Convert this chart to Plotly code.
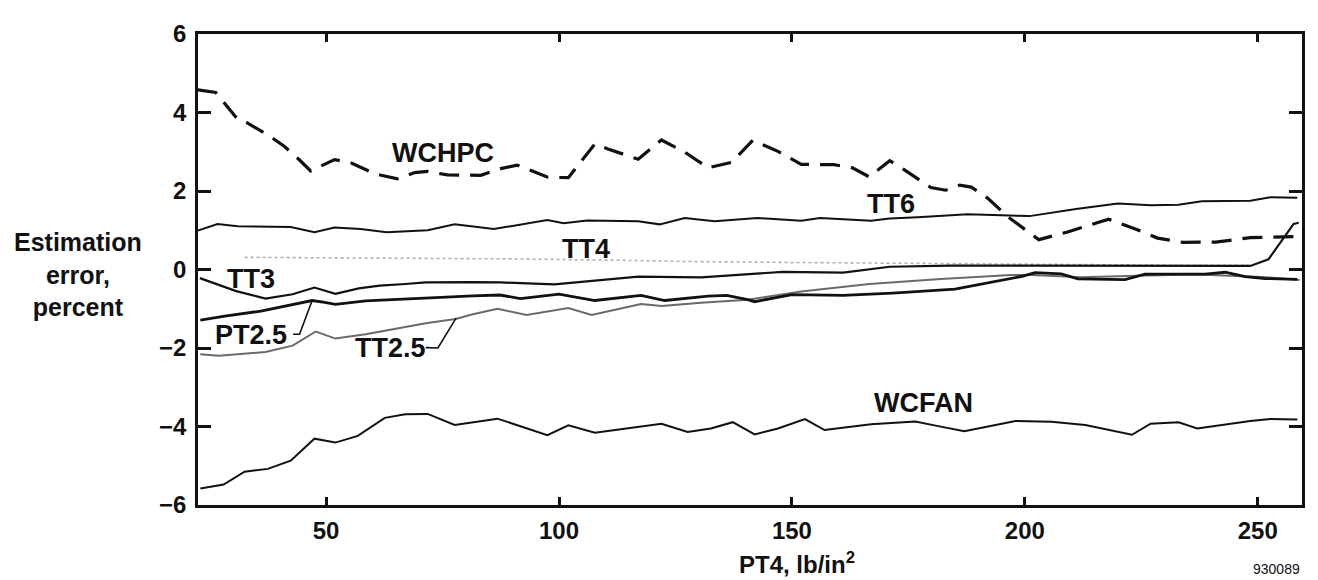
import plotly.graph_objects as go

# ---------------- data ----------------
wchpc_x = [22.4, 26.3, 31, 33, 38, 41, 44.3, 46.7, 51.8, 55.3, 60.4, 65.3, 69, 71.8, 76, 83.2, 87.5, 91,
           97.6, 102, 107.7, 110.5, 117, 122, 127, 132, 137, 141.6, 147, 152, 159, 163, 166.6, 171, 174,
           179.8, 183, 186, 188.5, 192, 196.4, 203, 209, 218, 224, 228.5, 234, 241, 248.4, 258.5]
wchpc_y = [4.58, 4.51, 3.83, 3.74, 3.39, 3.14, 2.79, 2.51, 2.8, 2.72, 2.44, 2.31, 2.47, 2.5, 2.41, 2.4, 2.57,
           2.66, 2.35, 2.34, 3.2, 3.07, 2.81, 3.3, 2.99, 2.59, 2.73, 3.29, 3.01, 2.68, 2.67, 2.59, 2.36, 2.77,
           2.55, 2.09, 2.02, 2.15, 2.1, 1.82, 1.34, 0.76, 0.95, 1.28, 1.02, 0.8, 0.69, 0.7, 0.81, 0.84]

tt6_x = [22.4, 26.7, 31, 42.4, 47.5, 51.8, 57.4, 63, 71.8, 77.6, 86, 91.7, 97.5, 101, 106, 117, 121.6, 127,
         133.4, 142.6, 152, 156, 167, 171, 177, 187.7, 201, 211, 220, 227, 233, 238, 248.4, 252.7, 258.5]
tt6_y = [0.99, 1.16, 1.1, 1.08, 0.95, 1.07, 1.03, 0.95, 1.0, 1.15, 1.03, 1.15, 1.26, 1.18, 1.25, 1.23, 1.15,
         1.31, 1.23, 1.31, 1.24, 1.31, 1.24, 1.3, 1.33, 1.41, 1.36, 1.54, 1.68, 1.64, 1.65, 1.74, 1.75, 1.84, 1.83]

tt4_x = [32.5, 50, 70, 90, 110, 130, 150, 170, 190, 210, 230, 248]
tt4_y = [0.31, 0.3, 0.29, 0.27, 0.24, 0.2, 0.18, 0.16, 0.14, 0.12, 0.11, 0.11]

tt3_x = [22.9, 30.7, 37, 42.8, 47.5, 52, 57, 61.5, 67, 71.4, 81.5, 87.5, 99, 109, 117, 130.5, 140.5, 148,
         161, 171, 184, 200, 220, 240, 248.4, 252.3, 256, 257.7, 258.8]
tt3_y = [-0.22, -0.55, -0.74, -0.63, -0.46, -0.62, -0.48, -0.41, -0.37, -0.33, -0.32, -0.33, -0.38, -0.27,
         -0.18, -0.2, -0.12, -0.06, -0.08, 0.07, 0.1, 0.1, 0.1, 0.1, 0.09, 0.26, 0.87, 1.16, 1.19]

pt25_x = [23, 28.6, 36, 43, 47, 49.7, 52, 58.5, 68.6, 81.5, 87.3, 91.7, 100, 107.7, 117.6, 122.7, 132, 136,
          140.5, 142, 150, 161, 171.6, 185, 199.6, 202.2, 207.8, 211.4, 221.5, 225.8, 238.7, 243, 247.3,
          251.6, 258.5]
pt25_y = [-1.29, -1.18, -1.06, -0.9, -0.79, -0.84, -0.89, -0.8, -0.74, -0.67, -0.65, -0.74, -0.63, -0.79,
          -0.66, -0.79, -0.68, -0.66, -0.77, -0.82, -0.64, -0.66, -0.6, -0.5, -0.17, -0.08, -0.11, -0.24,
          -0.26, -0.12, -0.12, -0.07, -0.18, -0.23, -0.25]

tt25_x = [23, 27, 37, 42.8, 47.8, 52, 58.5, 64.3, 71.4, 77.8, 81.5, 86.8, 93, 102, 107, 117.6, 122, 130.5,
          137.8, 140.5, 152, 166.6, 182, 197, 201.5, 212, 226, 237, 251, 259]
tt25_y = [-2.16, -2.2, -2.1, -1.94, -1.58, -1.76, -1.65, -1.53, -1.37, -1.26, -1.14, -1.0, -1.16, -0.98,
          -1.16, -0.88, -0.93, -0.85, -0.79, -0.77, -0.56, -0.37, -0.24, -0.14, -0.14, -0.2, -0.15, -0.13,
          -0.19, -0.27]

wcfan_x = [23, 28, 32.5, 37.5, 42.4, 47.5, 52, 56.8, 62.6, 67, 71.8, 77.6, 86.8, 97.5, 102, 107.7, 122,
           127.6, 132.6, 137.3, 142, 147, 152.8, 157, 167, 176.5, 181.4, 187, 198, 205.7, 213, 223, 227,
           233, 237, 248.4, 252.7, 258.5]
wcfan_y = [-5.58, -5.48, -5.15, -5.08, -4.87, -4.31, -4.41, -4.24, -3.78, -3.69, -3.68, -3.96, -3.8, -4.22,
           -3.97, -4.16, -3.93, -4.14, -4.05, -3.89, -4.2, -4.05, -3.81, -4.09, -3.94, -3.87, -3.99, -4.12,
           -3.86, -3.88, -3.96, -4.21, -3.93, -3.89, -4.05, -3.86, -3.81, -3.82]

# curve labels (text, x, y)
label_text = ["WCHPC", "TT6", "TT4", "TT3", "PT2.5", "TT2.5", "WCFAN"]
label_x = [75, 171.3, 105.8, 33.8, 33.8, 63.9, 178.2]
label_y = [2.96, 1.66, 0.53, -0.24, -1.68, -2.0, -3.41]

# leader lines from labels to curves
pt25_leader_x = [42.9, 44.3, 46.9]
pt25_leader_y = [-1.65, -1.65, -0.82]
tt25_leader_x = [71.4, 74.0, 77.9]
tt25_leader_y = [-1.99, -2.0, -1.24]

x_ticks = [50, 100, 150, 200, 250]
y_ticks = [-6, -4, -2, 0, 2, 4, 6]

FONT = "Liberation Sans, Arial, Helvetica, sans-serif"

fig = go.Figure()

def add_line(x, y, color, width, dash="solid"):
    fig.add_trace(go.Scatter(x=x, y=y, mode="lines", showlegend=False, hoverinfo="skip",
                             line=dict(color=color, width=width, dash=dash)))

add_line(tt4_x, tt4_y, "#b0b0b0", 1.6, "dot")
add_line(tt25_x, tt25_y, "#6a6a6a", 2.0)
add_line(pt25_x, pt25_y, "#111111", 2.8)
add_line(tt3_x, tt3_y, "#111111", 2.2)
add_line(tt6_x, tt6_y, "#111111", 2.0)
add_line(wcfan_x, wcfan_y, "#111111", 2.0)
add_line(wchpc_x, wchpc_y, "#111111", 3.2, "20px,11px")
add_line(pt25_leader_x, pt25_leader_y, "#111111", 1.6)
add_line(tt25_leader_x, tt25_leader_y, "#111111", 1.6)

for t, lx, ly in zip(label_text, label_x, label_y):
    fig.add_annotation(x=lx, y=ly, text=t, showarrow=False, xanchor="center", yanchor="middle",
                       font=dict(family=FONT, size=27, color="#111111", weight="bold"))

# plot area: 1104 x 485 px
fig.add_annotation(xref="paper", yref="paper", x=-0.1087, y=0.489,
                   text="Estimation<br>error,<br>percent", showarrow=False, align="center",
                   xanchor="center", yanchor="middle",
                   font=dict(family=FONT, size=25, color="#111111", weight="bold"))
fig.add_annotation(xref="paper", yref="paper", x=0.5426, y=-0.124,
                   text="PT4, lb/in<sup>2</sup>", showarrow=False,
                   xanchor="center", yanchor="middle",
                   font=dict(family=FONT, size=24, color="#111111", weight="bold"))
fig.add_annotation(xref="paper", yref="paper", x=0.977, y=-0.135,
                   text="930089", showarrow=False, xanchor="center", yanchor="middle",
                   font=dict(family=FONT, size=14, color="#111111"))

axis_common = dict(showline=True, linecolor="#111111", linewidth=2.5, mirror="ticks",
                   ticks="inside", tickcolor="#111111", tickwidth=2.5, showgrid=False,
                   zeroline=False, tickfont=dict(family=FONT, size=24, color="#111111", weight="bold"))

fig.update_xaxes(range=[22.5, 259.5], tickvals=x_ticks, ticklen=8, ticklabelstandoff=2, **axis_common)
fig.update_yaxes(range=[-6, 6], tickvals=y_ticks, ticklen=13, ticklabelstandoff=4, **axis_common)

# page body adds an 8px margin, so the figure is 8px smaller and shifted accordingly
fig.update_layout(width=1310, height=572, margin=dict(l=190, r=16, t=12, b=75),
                  plot_bgcolor="white", paper_bgcolor="white", showlegend=False)

fig.write_html("out.html")
